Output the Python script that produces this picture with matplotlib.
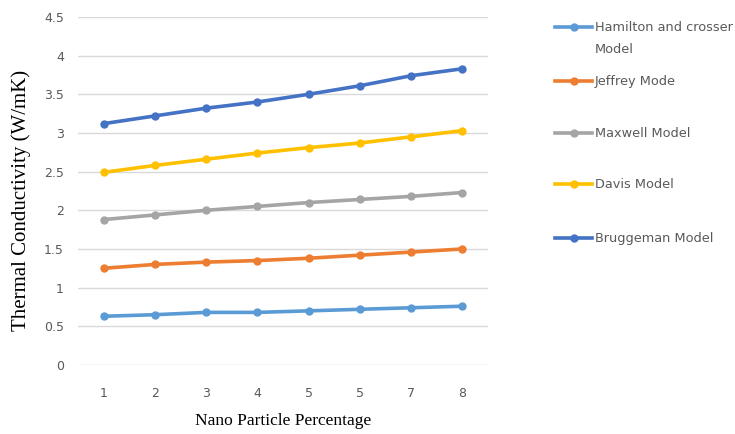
import matplotlib
matplotlib.use("Agg")
import matplotlib.pyplot as plt
from matplotlib.lines import Line2D

# Nanoparticle percentage (x) and thermal conductivity per model (W/mK)
percentages = [1, 2, 3, 4, 5, 6, 7, 8]
tick_labels = ["1", "2", "3", "4", "5", "5", "7", "8"]
hamilton = [0.63, 0.65, 0.68, 0.68, 0.70, 0.72, 0.74, 0.76]
jeffrey = [1.25, 1.30, 1.33, 1.35, 1.38, 1.42, 1.46, 1.50]
maxwell = [1.88, 1.94, 2.00, 2.05, 2.10, 2.14, 2.18, 2.23]
davis = [2.49, 2.58, 2.66, 2.74, 2.81, 2.87, 2.95, 3.03]
bruggeman = [3.12, 3.22, 3.32, 3.40, 3.50, 3.61, 3.74, 3.83]

series = [
    ("Hamilton and crosser\nModel", hamilton, "#5B9BD5"),
    ("Jeffrey Mode", jeffrey, "#ED7D31"),
    ("Maxwell Model", maxwell, "#A5A5A5"),
    ("Davis Model", davis, "#FFC000"),
    ("Bruggeman Model", bruggeman, "#4472C4"),
]

fig = plt.figure(figsize=(7.35, 4.34), dpi=100)
ax = fig.add_axes([0.106, 0.159, 0.558, 0.802])

for label, vals, color in series:
    ax.plot(percentages, vals, color=color, lw=2.6, marker="o", ms=5,
            solid_capstyle="round")

ax.set_xlim(0.5, 8.5)
ax.set_ylim(0, 4.5)
ax.set_yticks([0, 0.5, 1, 1.5, 2, 2.5, 3, 3.5, 4, 4.5])
ax.set_yticklabels(["0", "0.5", "1", "1.5", "2", "2.5", "3", "3.5", "4", "4.5"])
ax.set_xticks(percentages)
ax.set_xticklabels(tick_labels)
ax.grid(axis="y", color="#D9D9D9", lw=1)
ax.set_axisbelow(True)
for s in ax.spines.values():
    s.set_visible(False)
ax.tick_params(axis="y", length=0, labelsize=9, labelcolor="#595959", pad=10)
ax.tick_params(axis="x", length=0, labelsize=9, labelcolor="#595959", pad=16)
for t in ax.get_xticklabels() + ax.get_yticklabels():
    t.set_family("Liberation Sans Narrow")

ax.set_ylabel("Thermal Conductivity (W/mK)", family="Liberation Serif",
              fontsize=15)
ax.yaxis.set_label_coords(-0.115, 0.474)
ax.set_xlabel("Nano Particle Percentage", family="Liberation Serif",
              fontsize=12.5, labelpad=9)

# Legend drawn down the right-hand side
legend_y = [27, 81, 133, 184, 238]
H = 434.0
W = 735.0
for (label, vals, color), yp in zip(series, legend_y):
    yf = 1 - yp / H
    fig.add_artist(Line2D([555 / W, 592 / W], [yf, yf], color=color, lw=2.6,
                          transform=fig.transFigure))
    fig.add_artist(Line2D([573.5 / W], [yf], color=color, marker="o", ms=5,
                          transform=fig.transFigure))
    fig.text(595 / W, yf + 6 / H, label, fontsize=9.3, color="#595959",
             va="top", ha="left", family="Liberation Sans Narrow",
             linespacing=1.9)

fig.savefig("out.png", dpi=100)
